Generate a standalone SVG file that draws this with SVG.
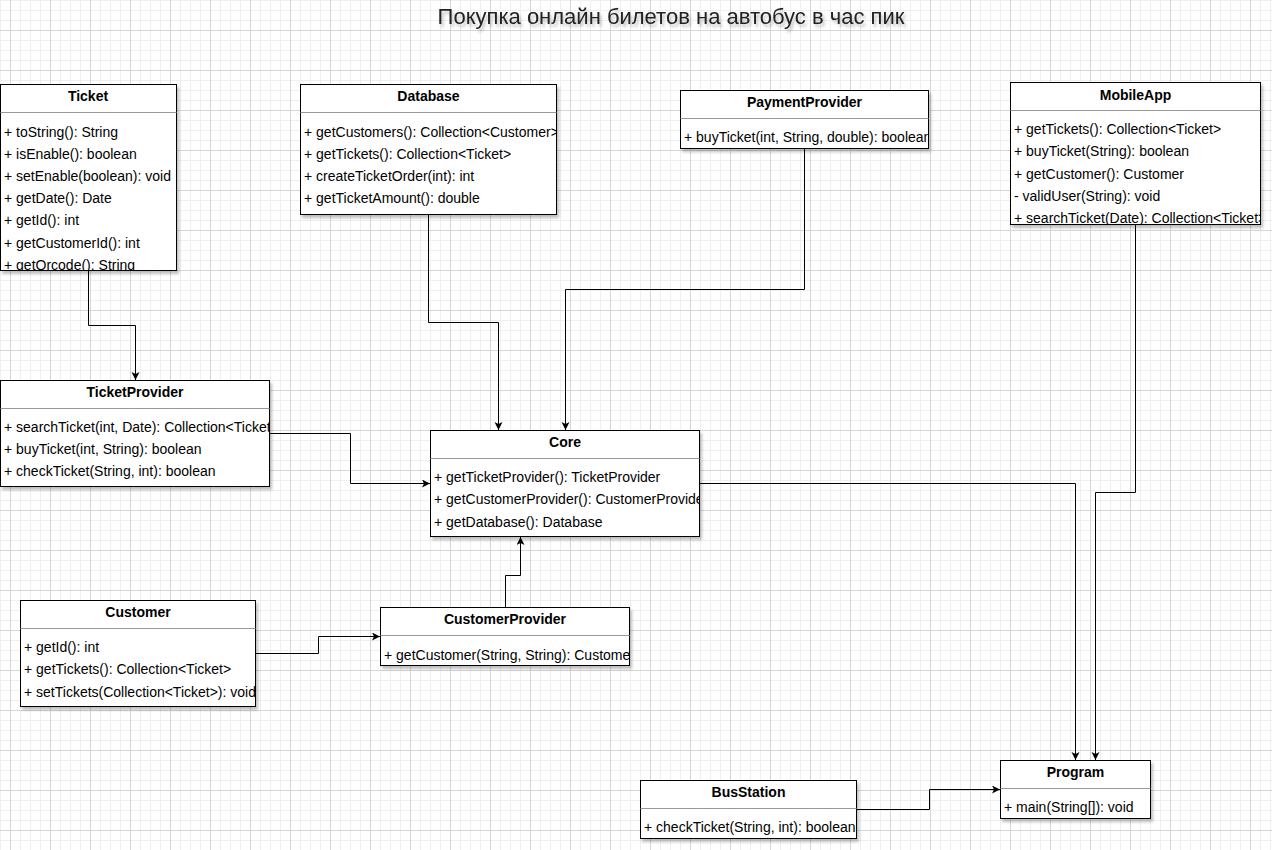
<svg xmlns="http://www.w3.org/2000/svg" width="1272" height="850" viewBox="0 0 1272 850">
<style>
.box{fill:#fff;stroke:#000;stroke-width:1}
.sep{stroke:#999;stroke-width:1}
.hdr{font-family:"Liberation Sans",Arial,Helvetica,sans-serif;font-size:14px;font-weight:bold;fill:#000;text-anchor:middle}
.row{font-family:"Liberation Sans",Arial,Helvetica,sans-serif;font-size:14px;fill:#000}
.title{font-family:"Liberation Sans",Arial,Helvetica,sans-serif;font-size:22px;fill:#222;text-anchor:middle}
.edge{fill:none;stroke:#000;stroke-width:1;marker-end:url(#arr)}
</style>
<defs>
<pattern id="grid" x="10" y="30" width="40" height="40" patternUnits="userSpaceOnUse">
<path d="M10.5,0V40M20.5,0V40M30.5,0V40M0,10.5H40M0,20.5H40M0,30.5H40" stroke="#efefef" stroke-width="1" fill="none"/>
<path d="M0.5,0V40M0,0.5H40" stroke="#d6d6d6" stroke-width="1" fill="none"/>
</pattern>
<filter id="sh" x="-10%" y="-10%" width="130%" height="140%">
<feDropShadow dx="2" dy="3" stdDeviation="1.5" flood-color="#000" flood-opacity="0.25"/>
</filter>
<marker id="arr" markerUnits="userSpaceOnUse" markerWidth="12" markerHeight="12" refX="8" refY="4" orient="auto">
<path d="M0,0 L8,4 L0,8 L2,4 Z" fill="#000"/>
</marker>
<clipPath id="cTicket"><rect x="0.5" y="84.5" width="176" height="186"/></clipPath>
<clipPath id="cDatabase"><rect x="300.5" y="84.5" width="256" height="130"/></clipPath>
<clipPath id="cPayment"><rect x="680.5" y="90.5" width="248" height="58"/></clipPath>
<clipPath id="cMobile"><rect x="1010.5" y="82.5" width="250" height="142"/></clipPath>
<clipPath id="cTP"><rect x="0.5" y="380.5" width="269" height="106"/></clipPath>
<clipPath id="cCore"><rect x="430.5" y="430.5" width="269" height="106"/></clipPath>
<clipPath id="cCustomer"><rect x="20.5" y="600.5" width="235" height="106"/></clipPath>
<clipPath id="cCP"><rect x="380.5" y="607.5" width="249" height="58"/></clipPath>
<clipPath id="cBus"><rect x="640.5" y="780.5" width="216" height="58"/></clipPath>
<clipPath id="cProg"><rect x="1000.5" y="760.5" width="150" height="58"/></clipPath>
</defs>
<rect width="1272" height="850" fill="#fff"/>
<rect width="1272" height="850" fill="url(#grid)"/>
<text class="title" x="671" y="23.5" filter="url(#sh)">Покупка онлайн билетов на автобус в час пик</text>

<g id="connectors">
<path class="edge" d="M88.5,270.5V325.5H135.5V380"/>
<path class="edge" d="M428.5,214.5V322.5H498.5V430"/>
<path class="edge" d="M804.5,148.5V289.5H565.5V430"/>
<path class="edge" d="M269.5,433.5H350.5V483.5H430"/>
<path class="edge" d="M505.5,607.5V575.5H520.5V537"/>
<path class="edge" d="M255.5,653.5H318.5V636.5H380"/>
<path class="edge" d="M699.5,483.5H1075.5V760"/>
<path class="edge" d="M1135.5,224.5V492.5H1095.5V760"/>
<path class="edge" d="M856.5,809.5H929.5V789.5H1000"/>
</g>

<g id="Ticket">
<rect class="box" x="0.5" y="84.5" width="176" height="186" filter="url(#sh)"/>
<line class="sep" x1="0.5" y1="112.5" x2="176.5" y2="112.5"/>
<text class="hdr" x="88" y="101">Ticket</text>
<g clip-path="url(#cTicket)">
<text class="row" x="4" y="136.5">+ toString(): String</text>
<text class="row" x="4" y="158.7">+ isEnable(): boolean</text>
<text class="row" x="4" y="180.9">+ setEnable(boolean): void</text>
<text class="row" x="4" y="203.1">+ getDate(): Date</text>
<text class="row" x="4" y="225.3">+ getId(): int</text>
<text class="row" x="4" y="247.5">+ getCustomerId(): int</text>
<text class="row" x="4" y="269.7">+ getQrcode(): String</text>
</g>
</g>

<g id="Database">
<rect class="box" x="300.5" y="84.5" width="256" height="130" filter="url(#sh)"/>
<line class="sep" x1="300.5" y1="112.5" x2="556.5" y2="112.5"/>
<text class="hdr" x="428.5" y="101">Database</text>
<g clip-path="url(#cDatabase)">
<text class="row" x="304" y="136.5">+ getCustomers(): Collection&lt;Customer&gt;</text>
<text class="row" x="304" y="158.7">+ getTickets(): Collection&lt;Ticket&gt;</text>
<text class="row" x="304" y="180.9">+ createTicketOrder(int): int</text>
<text class="row" x="304" y="203.1">+ getTicketAmount(): double</text>
</g>
</g>

<g id="PaymentProvider">
<rect class="box" x="680.5" y="90.5" width="248" height="58" filter="url(#sh)"/>
<line class="sep" x1="680.5" y1="118.5" x2="928.5" y2="118.5"/>
<text class="hdr" x="804.5" y="107">PaymentProvider</text>
<g clip-path="url(#cPayment)">
<text class="row" x="684" y="141.5">+ buyTicket(int, String, double): boolean</text>
</g>
</g>

<g id="MobileApp">
<rect class="box" x="1010.5" y="82.5" width="250" height="142" filter="url(#sh)"/>
<line class="sep" x1="1010.5" y1="110.5" x2="1260.5" y2="110.5"/>
<text class="hdr" x="1135.5" y="100">MobileApp</text>
<g clip-path="url(#cMobile)">
<text class="row" x="1014" y="134">+ getTickets(): Collection&lt;Ticket&gt;</text>
<text class="row" x="1014" y="156.3">+ buyTicket(String): boolean</text>
<text class="row" x="1014" y="178.6">+ getCustomer(): Customer</text>
<text class="row" x="1014" y="200.9">- validUser(String): void</text>
<text class="row" x="1014" y="223.2">+ searchTicket(Date): Collection&lt;Ticket&gt;</text>
</g>
</g>

<g id="TicketProvider">
<rect class="box" x="0.5" y="380.5" width="269" height="106" filter="url(#sh)"/>
<line class="sep" x1="0.5" y1="408.5" x2="269.5" y2="408.5"/>
<text class="hdr" x="135" y="397">TicketProvider</text>
<g clip-path="url(#cTP)">
<text class="row" x="4" y="431.5">+ searchTicket(int, Date): Collection&lt;Ticket&gt;</text>
<text class="row" x="4" y="453.8">+ buyTicket(int, String): boolean</text>
<text class="row" x="4" y="476.1">+ checkTicket(String, int): boolean</text>
</g>
</g>

<g id="Core">
<rect class="box" x="430.5" y="430.5" width="269" height="106" filter="url(#sh)"/>
<line class="sep" x1="430.5" y1="458.5" x2="699.5" y2="458.5"/>
<text class="hdr" x="565" y="447">Core</text>
<g clip-path="url(#cCore)">
<text class="row" x="434" y="482">+ getTicketProvider(): TicketProvider</text>
<text class="row" x="434" y="504.3">+ getCustomerProvider(): CustomerProvider</text>
<text class="row" x="434" y="526.6">+ getDatabase(): Database</text>
</g>
</g>

<g id="Customer">
<rect class="box" x="20.5" y="600.5" width="235" height="106" filter="url(#sh)"/>
<line class="sep" x1="20.5" y1="628.5" x2="255.5" y2="628.5"/>
<text class="hdr" x="138" y="617">Customer</text>
<g clip-path="url(#cCustomer)">
<text class="row" x="24" y="652">+ getId(): int</text>
<text class="row" x="24" y="674.3">+ getTickets(): Collection&lt;Ticket&gt;</text>
<text class="row" x="24" y="696.6">+ setTickets(Collection&lt;Ticket&gt;): void</text>
</g>
</g>

<g id="CustomerProvider">
<rect class="box" x="380.5" y="607.5" width="249" height="58" filter="url(#sh)"/>
<line class="sep" x1="380.5" y1="635.5" x2="629.5" y2="635.5"/>
<text class="hdr" x="505" y="624">CustomerProvider</text>
<g clip-path="url(#cCP)">
<text class="row" x="384" y="659.5">+ getCustomer(String, String): Customer</text>
</g>
</g>

<g id="BusStation">
<rect class="box" x="640.5" y="780.5" width="216" height="58" filter="url(#sh)"/>
<line class="sep" x1="640.5" y1="808.5" x2="856.5" y2="808.5"/>
<text class="hdr" x="748.5" y="797">BusStation</text>
<g clip-path="url(#cBus)">
<text class="row" x="644" y="832">+ checkTicket(String, int): boolean</text>
</g>
</g>

<g id="Program">
<rect class="box" x="1000.5" y="760.5" width="150" height="58" filter="url(#sh)"/>
<line class="sep" x1="1000.5" y1="788.5" x2="1150.5" y2="788.5"/>
<text class="hdr" x="1075.5" y="777">Program</text>
<g clip-path="url(#cProg)">
<text class="row" x="1004" y="812">+ main(String[]): void</text>
</g>
</g>
</svg>
